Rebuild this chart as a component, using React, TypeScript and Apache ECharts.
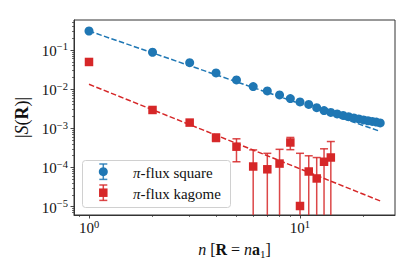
import React, { useEffect, useRef } from "react";
import * as echarts from "echarts";

// ---- data ----
const seriesNames = ["π-flux square", "π-flux kagome"];

const squareN = [1, 2, 3, 4, 5, 6, 7, 8, 9, 10, 11, 12, 13, 14, 15, 16, 17, 18, 19, 20, 21, 22, 23, 24];
const squareS = [
  0.305, 0.0874, 0.0474, 0.0259, 0.0172, 0.0116, 0.009, 0.00711, 0.00573, 0.00471, 0.00407, 0.00337,
  0.00283, 0.00255, 0.00233, 0.00213, 0.00198, 0.00184, 0.00174, 0.00164, 0.00156, 0.0015, 0.00144, 0.00137,
];

const kagomeN = [1, 2, 3, 4, 5, 6, 7, 8, 9, 10, 11, 12, 13, 14];
const kagomeS = [0.0494, 0.00294, 0.0014, 5.8e-4, 3.4e-4, 1.06e-4, 9.0e-5, 1.26e-4, 4.35e-4, 1.04e-5, 7.9e-5, 5.25e-5, 1.4e-4, 1.8e-4];
const kagomeErr = [0, 0, 0, 1.2e-4, 2.0e-4, 1.75e-4, 1.4e-4, 1.65e-4, 1.5e-4, 2.2e-4, 1.2e-4, 1.27e-4, 1.6e-4, 2.8e-4];

const squareFitN = [1, 24];
const squareFitS = [0.305, 8.37e-4];
const kagomeFitN = [1, 24];
const kagomeFitS = [0.0133, 1.4e-5];

const xMajorTicks = [1, 10];
const xMinorTicks = [0.9, 2, 3, 4, 5, 6, 7, 8, 9, 20];
const yMajorTicks = [1e-5, 1e-4, 1e-3, 1e-2, 1e-1];
const yMinorTicks = [
  7e-6, 8e-6, 9e-6,
  2e-5, 3e-5, 4e-5, 5e-5, 6e-5, 7e-5, 8e-5, 9e-5,
  2e-4, 3e-4, 4e-4, 5e-4, 6e-4, 7e-4, 8e-4, 9e-4,
  2e-3, 3e-3, 4e-3, 5e-3, 6e-3, 7e-3, 8e-3, 9e-3,
  2e-2, 3e-2, 4e-2, 5e-2, 6e-2, 7e-2, 8e-2, 9e-2,
  0.2, 0.3, 0.4, 0.5,
];

const X_MIN = 0.849;
const X_MAX = 28.2;
const Y_MIN = 6.13e-6;
const Y_MAX = 0.582;

// ---- styles ----
const BLUE = "#1f77b4";
const RED = "#d62728";
const AX = "#333333";
const TXT = "#111111";
const FONT = "'Liberation Serif', 'DejaVu Serif', serif";

const tickRich = {
  b: { fontFamily: FONT, fontSize: 15, color: TXT, lineHeight: 17, padding: [2, 0, 0, 0], verticalAlign: "bottom" },
  s: { fontFamily: FONT, fontSize: 10.5, color: TXT, lineHeight: 11, verticalAlign: "top" },
};

const powFmt = (v: number) => {
  const e = Math.round(Math.log10(v));
  const s = e < 0 ? "\u2212" + String(-e) : String(e);
  return "{b|10}{s|" + s + "}";
};

export default function App() {
  const ref = useRef<HTMLDivElement>(null);

  useEffect(() => {
    if (!ref.current) return;
    const chart = echarts.init(ref.current, undefined, { renderer: "svg" });

    const errData = kagomeN.map((n, i) => [n, kagomeS[i], kagomeErr[i]]);
    const CAP = 4;
    const errStyle = { stroke: RED, lineWidth: 1.5, opacity: 0.85 };

    const legendY = [171.7, 192.7];
    const legendX = 103.3;
    const legendGraphic: any[] = [
      {
        type: "rect",
        z: 100,
        shape: { x: 82.5, y: 160.5, width: 148, height: 47, r: 3 },
        style: { fill: "rgba(255,255,255,0.8)", stroke: "#d0d0d0", lineWidth: 1 },
      },
    ];
    [BLUE, RED].forEach((c, i) => {
      const cy = legendY[i];
      const st = { stroke: c, lineWidth: 1.5, opacity: 0.85 };
      legendGraphic.push(
        { type: "line", z: 101, shape: { x1: legendX, y1: cy - 7.7, x2: legendX, y2: cy + 7.7 }, style: st },
        { type: "line", z: 101, shape: { x1: legendX - CAP, y1: cy - 7.7, x2: legendX + CAP, y2: cy - 7.7 }, style: st },
        { type: "line", z: 101, shape: { x1: legendX - CAP, y1: cy + 7.7, x2: legendX + CAP, y2: cy + 7.7 }, style: st }
      );
      if (i === 0) {
        legendGraphic.push({ type: "circle", z: 102, shape: { cx: legendX, cy, r: 4.5 }, style: { fill: c } });
      } else {
        legendGraphic.push({ type: "rect", z: 102, shape: { x: legendX - 4.25, y: cy - 4.25, width: 8.5, height: 8.5 }, style: { fill: c } });
      }
      legendGraphic.push({
        type: "text",
        z: 102,
        x: 133,
        y: cy + 0.8,
        style: {
          text: "{i|π}{t|" + seriesNames[i].slice(1) + "}",
          font: "15px " + FONT,
          fontFamily: FONT,
          fontSize: 15,
          fill: TXT,
          verticalAlign: "middle",
          rich: {
            i: { fontFamily: FONT, fontSize: 15, fontStyle: "italic", fill: TXT, color: TXT },
            t: { fontFamily: FONT, fontSize: 15, fill: TXT, color: TXT },
          },
        },
      });
    });

    const option: any = {
      animation: false,
      backgroundColor: "#ffffff",
      grid: {
        left: 74,
        right: 20,
        top: 20,
        bottom: 62,
        show: true,
        borderColor: AX,
        borderWidth: 1,
        backgroundColor: "transparent",
        containLabel: false,
        outerBoundsMode: "none",
      },
      xAxis: [
        {
          type: "log",
          logBase: 10,
          min: X_MIN,
          max: X_MAX,
          position: "bottom",
          axisLine: { show: true, onZero: false, lineStyle: { color: AX, width: 1 } },
          axisTick: { show: true, length: 3.5, customValues: xMajorTicks, lineStyle: { color: AX, width: 0.9 } },
          axisLabel: { show: true, customValues: xMajorTicks, margin: 3.5, formatter: powFmt, rich: tickRich },
          splitLine: { show: false },
          minorTick: { show: false },
          minorSplitLine: { show: false },
          name: "{i|n} {t|[}{b|R}{t| = }{i|n}{b|a}{sub|1}{t|]}",
          nameLocation: "middle",
          nameGap: 24,
          nameTextStyle: {
            fontFamily: FONT,
            fontSize: 16,
            color: TXT,
            rich: {
              i: { fontFamily: FONT, fontSize: 16, fontStyle: "italic", color: TXT, lineHeight: 18, verticalAlign: "top" },
              t: { fontFamily: FONT, fontSize: 16, color: TXT, lineHeight: 18, verticalAlign: "top" },
              b: { fontFamily: FONT, fontSize: 16, fontWeight: "bold", color: TXT, lineHeight: 18, verticalAlign: "top" },
              sub: { fontFamily: FONT, fontSize: 11, color: TXT, lineHeight: 12, padding: [8, 0, 0, 0], verticalAlign: "bottom" },
            },
          },
        },
        {
          type: "log",
          logBase: 10,
          min: X_MIN,
          max: X_MAX,
          position: "bottom",
          axisLine: { show: false },
          axisTick: { show: true, length: 2, customValues: xMinorTicks, lineStyle: { color: AX, width: 0.7 } },
          axisLabel: { show: false },
          splitLine: { show: false },
        },
      ],
      yAxis: [
        {
          type: "log",
          logBase: 10,
          min: Y_MIN,
          max: Y_MAX,
          position: "left",
          axisLine: { show: true, onZero: false, lineStyle: { color: AX, width: 1 } },
          axisTick: { show: true, length: 3.5, customValues: yMajorTicks, lineStyle: { color: AX, width: 0.9 } },
          axisLabel: { show: true, customValues: yMajorTicks, margin: 6, formatter: powFmt, rich: tickRich },
          splitLine: { show: false },
          minorTick: { show: false },
          minorSplitLine: { show: false },
          name: "{t||}{i|S}{t|(}{b|R}{t|)|}",
          nameLocation: "middle",
          nameRotate: 90,
          nameGap: 40,
          nameTextStyle: {
            fontFamily: FONT,
            fontSize: 18,
            color: TXT,
            rich: {
              t: { fontFamily: FONT, fontSize: 18, color: TXT },
              i: { fontFamily: FONT, fontSize: 18, fontStyle: "italic", color: TXT },
              b: { fontFamily: FONT, fontSize: 18, fontWeight: "bold", color: TXT },
            },
          },
        },
        {
          type: "log",
          logBase: 10,
          min: Y_MIN,
          max: Y_MAX,
          position: "left",
          axisLine: { show: false },
          axisTick: { show: true, length: 2, customValues: yMinorTicks, lineStyle: { color: AX, width: 0.7 } },
          axisLabel: { show: false },
          splitLine: { show: false },
        },
      ],
      series: [
        {
          name: seriesNames[0] + " fit",
          type: "line",
          xAxisIndex: 0,
          yAxisIndex: 0,
          data: squareFitN.map((n, i) => [n, squareFitS[i]]),
          showSymbol: false,
          symbol: "none",
          lineStyle: { color: BLUE, width: 1.5, type: [5.5, 2.4] },
          z: 2,
          silent: true,
        },
        {
          name: seriesNames[1] + " fit",
          type: "line",
          xAxisIndex: 0,
          yAxisIndex: 0,
          data: kagomeFitN.map((n, i) => [n, kagomeFitS[i]]),
          showSymbol: false,
          symbol: "none",
          lineStyle: { color: RED, width: 1.5, type: [5.5, 2.4] },
          z: 2,
          silent: true,
        },
        {
          name: seriesNames[1] + " error",
          type: "custom",
          xAxisIndex: 0,
          yAxisIndex: 0,
          data: errData,
          encode: { x: 0, y: 1 },
          z: 3,
          silent: true,
          renderItem: (params: any, api: any) => {
            const n = api.value(0);
            const v = api.value(1);
            const e = api.value(2);
            if (!(e > 0)) return null;
            const hi = api.coord([n, v + e]);
            const clipped = v - e <= Y_MIN;
            const lo = api.coord([n, clipped ? Y_MIN : v - e]);
            const children: any[] = [
              { type: "line", shape: { x1: hi[0], y1: hi[1], x2: lo[0], y2: lo[1] }, style: errStyle },
              { type: "line", shape: { x1: hi[0] - CAP, y1: hi[1], x2: hi[0] + CAP, y2: hi[1] }, style: errStyle },
            ];
            if (!clipped) {
              children.push({ type: "line", shape: { x1: lo[0] - CAP, y1: lo[1], x2: lo[0] + CAP, y2: lo[1] }, style: errStyle });
            }
            return { type: "group", children };
          },
        },
        {
          name: seriesNames[0],
          type: "scatter",
          xAxisIndex: 0,
          yAxisIndex: 0,
          data: squareN.map((n, i) => [n, squareS[i]]),
          symbol: "circle",
          symbolSize: 9,
          itemStyle: { color: BLUE, opacity: 1 },
          z: 4,
        },
        {
          name: seriesNames[1],
          type: "scatter",
          xAxisIndex: 0,
          yAxisIndex: 0,
          data: kagomeN.map((n, i) => [n, kagomeS[i]]),
          symbol: "rect",
          symbolSize: 8.5,
          itemStyle: { color: RED, opacity: 1 },
          z: 4,
        },
      ],
      graphic: legendGraphic,
    };

    chart.setOption(option);
    return () => {
      chart.dispose();
    };
  }, []);

  return (
    <div
      ref={ref}
      style={{ position: "fixed", left: 0, top: 0, width: 415, height: 277, background: "#fff" }}
    />
  );
}
